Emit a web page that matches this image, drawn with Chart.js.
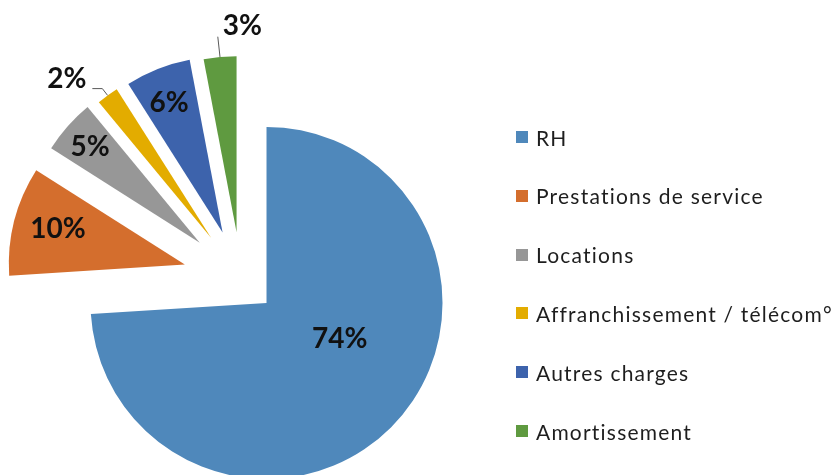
<!DOCTYPE html>
<html>
<head>
<meta charset="utf-8">
<script src="https://cdn.jsdelivr.net/npm/chart.js@4.4.1/dist/chart.umd.min.js"></script>
<style>
    html, body { margin: 0; padding: 0; background: #fff; }
    #wrap { position: relative; width: 835px; height: 475px; overflow: hidden; }
    #pie { position: absolute; left: 0; top: 0; }
    .legend-item {
        position: absolute;
        left: 516px;
        height: 24px;
        display: flex;
        align-items: center;
        font-family: Lato, sans-serif;
        font-size: 21px;
        font-variant-ligatures: none;
        color: #1e1e1e;
        white-space: nowrap;
    }
    .legend-item .box { width: 12px; height: 12px; margin-right: 8px; flex: none; }
</style>
</head>
<body>
<div id="wrap">
    <canvas id="pie" width="835" height="475"></canvas>
    <div id="legend"></div>
</div>
<script>
// Data
const categories = ['RH', 'Prestations de service', 'Locations', 'Affranchissement / télécom°', 'Autres charges', 'Amortissement'];
const shares = [74, 10, 5, 2, 6, 3];

// Styles
const sliceColors = ['#4F88BB', '#D46E2D', '#979797', '#E3AC00', '#3D63AC', '#5F9A40'];
const explode = [35, 58, 55, 51, 50, 47];          // px each slice is pulled out
const labelDist = [0.46, 0.75, 0.83, 1.225, 0.80, 1.18]; // label distance, share of radius
const labelTurn = [-18, 1.5, 0, -6, -0.7, 7];       // degrees off the slice middle
const leaderStyle = [null, null, null, 'elbow', null, 'straight'];

// Slice drawn as a plain exploded wedge (Excel style: pulled out, same radius)
class ExplodedArc extends Chart.ArcElement {
    draw(ctx) {
        const { x, y, startAngle, endAngle, outerRadius, options } = this;
        if (endAngle - startAngle <= 0) return;
        const mid = (startAngle + endAngle) / 2;
        const pull = options.offset || 0;
        const ox = x + Math.cos(mid) * pull;
        const oy = y + Math.sin(mid) * pull;
        ctx.save();
        ctx.beginPath();
        ctx.moveTo(ox, oy);
        ctx.arc(ox, oy, outerRadius, startAngle, endAngle);
        ctx.closePath();
        ctx.fillStyle = options.backgroundColor;
        ctx.fill();
        ctx.restore();
    }
}
ExplodedArc.id = 'explodedArc';
ExplodedArc.defaults = { ...Chart.ArcElement.defaults, borderWidth: 0 };

class ExplodedPie extends Chart.PieController {}
ExplodedPie.id = 'explodedPie';
ExplodedPie.defaults = {
    datasetElementType: false,
    dataElementType: 'explodedArc',
    cutout: 0,
    rotation: 0,
    circumference: 360,
    radius: '100%',
    spacing: 0,
    indexAxis: 'r'
};

Chart.register(ExplodedArc, ExplodedPie);

const sliceLabels = {
    id: 'sliceLabels',
    afterDatasetsDraw(chart) {
        const ctx = chart.ctx;
        const arcs = chart.getDatasetMeta(0).data;
        const size = 28;
        ctx.save();
        ctx.font = `bold ${size}px Lato, sans-serif`;
        ctx.fillStyle = '#111';
        ctx.textAlign = 'center';
        ctx.textBaseline = 'alphabetic';
        ctx.strokeStyle = '#595959';
        ctx.lineWidth = 1;
        arcs.forEach((arc, i) => {
            const mid = (arc.startAngle + arc.endAngle) / 2;
            const cx = arc.x + Math.cos(mid) * explode[i];
            const cy = arc.y + Math.sin(mid) * explode[i];
            const a = mid + labelTurn[i] * Math.PI / 180;
            const r = arc.outerRadius;
            const lx = cx + Math.cos(a) * labelDist[i] * r;
            const ly = cy + Math.sin(a) * labelDist[i] * r;
            const text = shares[i] + '%';
            const w = ctx.measureText(text).width;
            const capHalf = size * 0.36;
            ctx.fillText(text, lx, ly + capHalf);

            // leader lines for the labels sitting outside the pie
            const px = cx + Math.cos(mid) * r;
            const py = cy + Math.sin(mid) * r;
            if (leaderStyle[i] === 'elbow') {
                ctx.beginPath();
                ctx.moveTo(px, py);
                ctx.lineTo(lx + w / 2 + 16, ly + capHalf + 1);
                ctx.lineTo(lx + w / 2 + 6, ly + capHalf + 1);
                ctx.stroke();
            } else if (leaderStyle[i] === 'straight') {
                ctx.beginPath();
                ctx.moveTo(px, py);
                ctx.lineTo(lx - w / 2 - 5, ly + capHalf + 2);
                ctx.stroke();
            }
        });
        ctx.restore();
    }
};

new Chart(document.getElementById('pie'), {
    type: 'explodedPie',
    data: {
        labels: categories,
        datasets: [{
            data: shares,
            backgroundColor: sliceColors,
            offset: explode,
            radius: 176
        }]
    },
    options: {
        responsive: false,
        maintainAspectRatio: false,
        animation: false,
        events: [],
        layout: { padding: { left: 0, right: 353, top: 83, bottom: 0 } },
        plugins: {
            legend: { display: false },
            tooltip: { enabled: false }
        }
    },
    plugins: [sliceLabels]
});

// Legend
const legend = document.getElementById('legend');
const legendTop = 137;
const legendStep = 58.8;
const textSpans = [];
categories.forEach((name, i) => {
    const item = document.createElement('div');
    item.className = 'legend-item';
    item.style.top = (legendTop + i * legendStep - 12) + 'px';
    item.innerHTML = `<span class="box" style="background:${sliceColors[i]}"></span><span class="txt">${name}</span>`;
    legend.appendChild(item);
    textSpans.push(item.querySelector('.txt'));
});
// stretch the letter spacing so the longest entry spans like the original (~297px)
const longest = textSpans.reduce((a, b) => (b.getBoundingClientRect().width > a.getBoundingClientRect().width ? b : a));
const extra = (297 - longest.getBoundingClientRect().width) / longest.textContent.length;
if (extra > 0) textSpans.forEach(s => { s.style.letterSpacing = extra.toFixed(2) + 'px'; });
</script>
</body>
</html>
